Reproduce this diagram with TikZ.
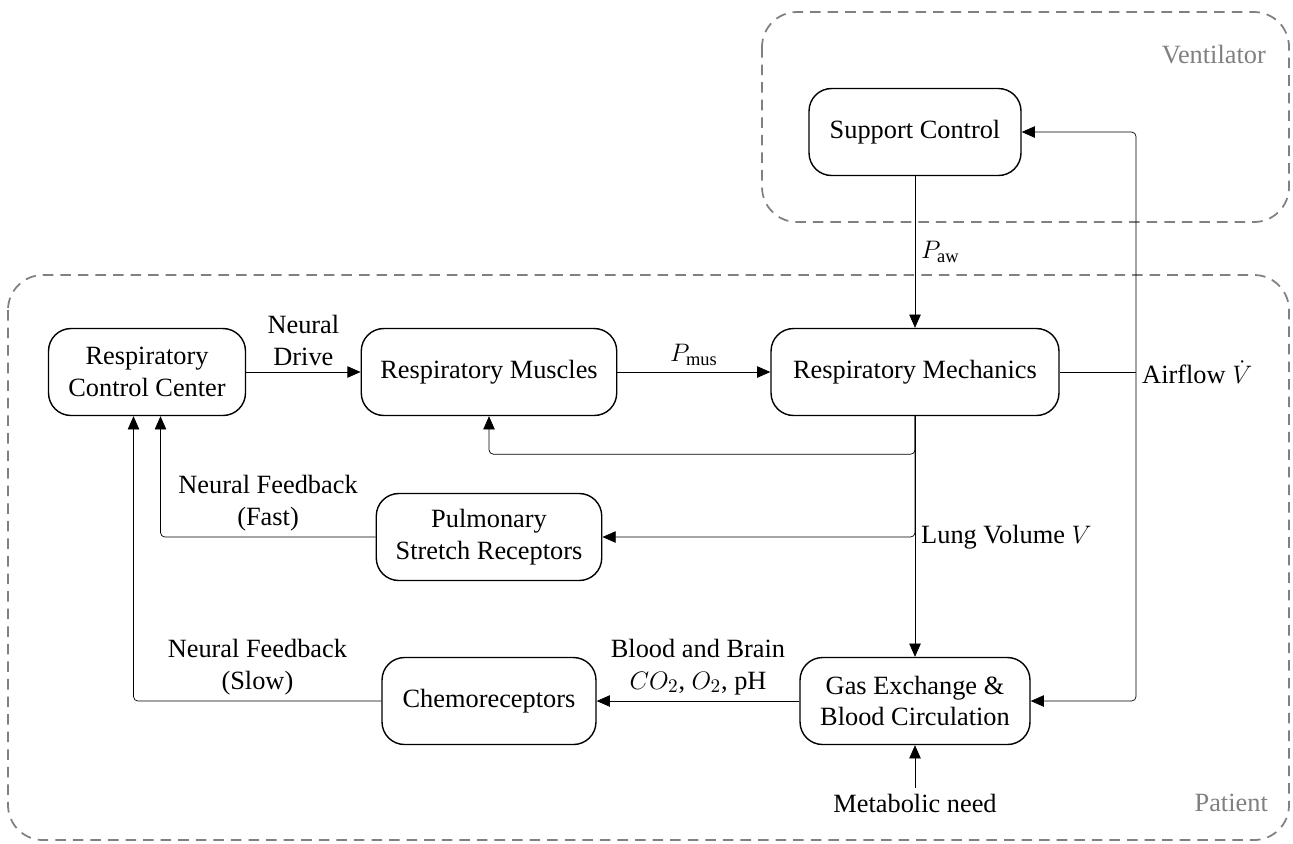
\documentclass[tikz,border=0pt]{standalone}
\usepackage{fontspec}
\setmainfont{Liberation Serif}
\usetikzlibrary{arrows.meta}

\tikzset{
  block/.style={draw,thick,rounded corners=0.45cm,minimum height=1.74cm,inner xsep=0.3cm,align=center},
  group/.style={draw=gray,line width=1pt,dash pattern=on 6pt off 4pt,rounded corners=0.7cm},
  grouplabel/.style={text=gray,anchor=east},
  conn/.style={-{Triangle[length=7.5pt,width=6.5pt]},rounded corners=2.5pt}
}

\begin{document}
\begin{tikzpicture}[x=0.02cm,y=-0.02cm,font=\fontsize{15}{18}\selectfont]
\useasboundingbox (0,0) rectangle (1293,843);

% Ventilator and patient
\draw[group] (762,12) rectangle (1289,222);
\draw[group] (8,275) rectangle (1289,840);
\node[grouplabel] (ventlbl) at (1272,55) {Ventilator};
\node[grouplabel] (patlbl) at (1274,803) {Patient};

% Blocks
\node[block,minimum width=4.24cm] (support) at (915,132) {Support Control};
\node[block,minimum width=3.94cm] (rcc) at (147,372) {Respiratory\\Control Center};
\node[block,minimum width=5.11cm] (muscles) at (489,372) {Respiratory Muscles};
\node[block,minimum width=5.76cm] (mech) at (915,372) {Respiratory Mechanics};
\node[block,minimum width=4.51cm] (stretch) at (489,537) {Pulmonary\\Stretch Receptors};
\node[block,minimum width=4.28cm] (chemo) at (489,701) {Chemoreceptors};
\node[block,minimum width=4.6cm] (gas) at (915,701) {Gas Exchange \&\\Blood Circulation};
\node (meta) at (915,803) {Metabolic need};

% Forward path
\draw[conn] (rcc) -- node[above,align=center] {Neural\\Drive} (muscles);
\draw[conn] (muscles) -- node[above] {$P_{\mathrm{mus}}$} (mech);
\draw[conn] (support) -- node[right] {$P_{\mathrm{aw}}$} (mech);

% Airflow
\coordinate (flow) at (1136,372);
\draw (mech) -- (flow) node[right] {Airflow $\dot{V}$};
\draw[conn] (flow) |- (support.east);
\draw[conn] (flow) |- (gas.east);

% Lung volume
\draw[conn] (mech.south) |- ++(0,38) -| (muscles.south);
\draw[conn] (mech.south) -- (gas.north);
\draw[conn] (mech.south) |- node[pos=0.5,right] {Lung Volume $V$} (stretch.east);

% Feedback
\draw[conn] (stretch.west) -| node[pos=0.25,above,align=center] {Neural Feedback\\(Fast)} ([xshift=0.27cm]rcc.south);
\draw[conn] (gas) -- node[above,align=center] {Blood and Brain\\$CO_2$, $O_2$, pH} (chemo);
\draw[conn] (chemo.west) -| node[pos=0.25,above,align=center] {Neural Feedback\\(Slow)} ([xshift=-0.27cm]rcc.south);
\draw[conn] (meta) -- (gas);
\end{tikzpicture}
\end{document}
